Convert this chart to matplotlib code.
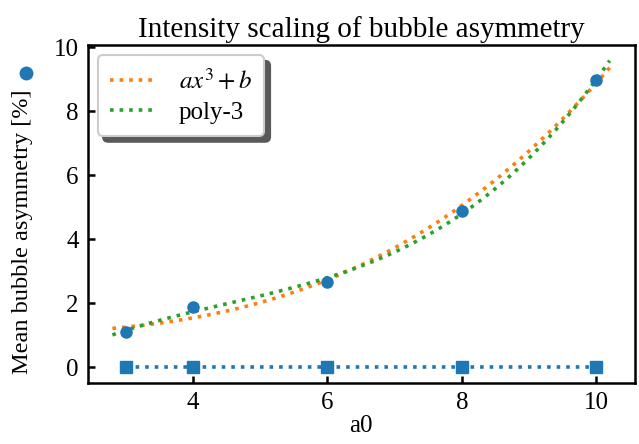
import numpy as np
import matplotlib
matplotlib.use('Agg')
import matplotlib.pyplot as plt

plt.rcParams['font.family'] = 'serif'
plt.rcParams['font.serif'] = ['Liberation Serif', 'DejaVu Serif']
plt.rcParams['mathtext.fontset'] = 'stix'
plt.rcParams['font.size'] = 18
plt.rcParams['axes.linewidth'] = 1.8
plt.rcParams['xtick.direction'] = 'in'
plt.rcParams['ytick.direction'] = 'in'
plt.rcParams['xtick.major.width'] = 1.8
plt.rcParams['ytick.major.width'] = 1.8
plt.rcParams['xtick.major.size'] = 5
plt.rcParams['ytick.major.size'] = 5
plt.rcParams['xtick.major.pad'] = 6.5
plt.rcParams['ytick.major.pad'] = 6.5

# data
a0 = [3, 4, 6, 8, 10]
asym = [1.09, 1.88, 2.66, 4.88, 8.97]
baseline = [0, 0, 0, 0, 0]

x = np.array(a0, dtype=float)
y = np.array(asym)
xf = np.linspace(2.8, 10.2, 100)

# fit a*x^3 + b
A = np.vstack([x**3, np.ones_like(x)]).T
(a, b), *_ = np.linalg.lstsq(A, y, rcond=None)
cubic = a * xf**3 + b
poly = np.polyval(np.polyfit(x, y, 3), xf)

fig, ax = plt.subplots(figsize=(6.39, 4.44), dpi=100)
ax.plot(xf, cubic, ':', color='C1', lw=2.6, label='$ax^3+b$')
ax.plot(xf, poly, ':', color='C2', lw=2.6, label='poly-3')
ax.plot(a0, asym, 'o', color='C0', ms=8)
ax.plot(a0, baseline, 's:', color='C0', ms=8, lw=2.6)

# marker next to y label
ax.plot([-0.113], [0.917], 'o', color='C0', ms=9, transform=ax.transAxes, clip_on=False)

ax.set_xticks([4, 6, 8, 10])
ax.set_yticks([0, 2, 4, 6, 8, 10])
ax.set_title('Intensity scaling of bubble asymmetry', fontsize=21)
ax.set_xlabel('a0', fontsize=18)
ax.xaxis.set_label_coords(0.5, -0.095)
ax.set_ylabel('Mean bubble asymmetry [%]', fontsize=17.5)
ax.yaxis.set_label_coords(-0.099, 0.447)
leg = ax.legend(loc='upper left', fancybox=True, handlelength=1.85, handletextpad=0.9,
                borderpad=0.5, labelspacing=0.3, borderaxespad=0.4, fontsize=18,
                shadow={'ox': 4, 'oy': -4, 'facecolor': '0.35', 'edgecolor': '0.35', 'alpha': 1})
leg.get_frame().set_edgecolor('#cccccc')
leg.get_frame().set_linewidth(1.5)

plt.subplots_adjust(left=0.137, right=0.993, top=0.898, bottom=0.138)
plt.savefig('out.png', dpi=100)
